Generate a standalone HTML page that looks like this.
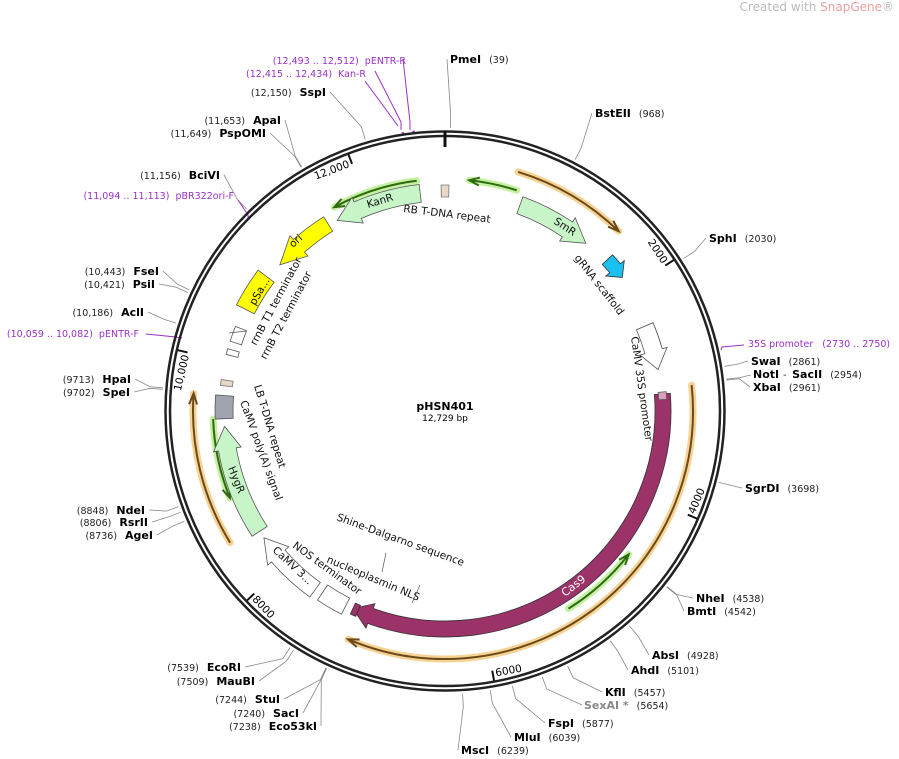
<!DOCTYPE html>
<html><head><meta charset="utf-8"><style>
html,body{margin:0;padding:0;background:#fff;width:899px;height:759px;overflow:hidden}
svg{display:block;font-family:"DejaVu Sans","Liberation Sans",sans-serif}
text{white-space:pre}
.n{font-size:9.5px;fill:#222}.b{font-size:11px;font-weight:bold;fill:#000}
.p{font-size:9.5px;fill:#9b30c8}.f{font-size:10.5px;fill:#111}
</style></head><body>
<svg id="s" width="899" height="759" viewBox="0 0 899 759" xmlns="http://www.w3.org/2000/svg">
<text x="894" y="11" text-anchor="end" style="font-size:12px;fill:#bbb">Created with <tspan fill="#e9a0a0">SnapGene</tspan>®</text>
<text x="445" y="410" text-anchor="middle" style="font-size:11px;font-weight:bold">pHSN401</text>
<text x="445" y="421" text-anchor="middle" style="font-size:9px">12,729 bp</text>
</svg>
<script>
var s=document.getElementById('s'),NS='http://www.w3.org/2000/svg',CX=445,CY=411,DY=3;
function el(t,a,txt){var e=document.createElementNS(NS,t);for(var k in a)e.setAttribute(k,a[k]);if(txt!=null)e.textContent=txt;s.appendChild(e);return e;}
function P(r,d){var a=d*Math.PI/180;return [CX+r*Math.sin(a),CY-r*Math.cos(a)];}
function bp(p){return p/12729*360;}
function arc(r,a1,a2){var p1=P(r,a1),p2=P(r,a2),l=Math.abs(a2-a1)>180?1:0,sw=a2>a1?1:0;return 'M'+p1[0]+' '+p1[1]+' A'+r+' '+r+' 0 '+l+' '+sw+' '+p2[0]+' '+p2[1];}
function cut(pos,x,y,col){var a=P(283,bp(pos)),b=P(296,bp(pos));el('path',{d:'M'+a+' L'+b+' L'+x+' '+y,fill:'none',stroke:col||'#888','stroke-width':0.8});}
var R=[['PmeI','(39)',450,60,39],['BstEII','(968)',595,114,968],['SphI','(2030)',709,239,2030],['SwaI','(2861)',751,362,2861],['XbaI','(2961)',753,388,2961],['SgrDI','(3698)',745,489,3698],['NheI','(4538)',696,599,4538],['BmtI','(4542)',687,612,4542],['AbsI','(4928)',652,656,4928],['AhdI','(5101)',631,671,5101],['KflI','(5457)',605,693,5457],['FspI','(5877)',548,724,5877],['MluI','(6039)',514,738,6039],['MscI','(6239)',461,751,6239]];
R.forEach(function(r){var y=r[3]+DY;cut(r[4],r[2]-3,y-4);var t=el('text',{x:r[2],y:y,class:'b'},r[0]);var w=t.getComputedTextLength();el('text',{x:r[2]+w+8,y:y,class:'n'},r[1]);});
cut(2954,751,375);
var t=el('text',{x:753,y:378,class:'b'},'NotI');var w=t.getComputedTextLength();
el('text',{x:753+w+4,y:378,class:'n'},'-');var t2=el('text',{x:753+w+13,y:378,class:'b'},'SacII');
el('text',{x:753+w+13+t2.getComputedTextLength()+8,y:378,class:'n'},'(2954)');
cut(5654,582,705);var t3=el('text',{x:584,y:709,class:'b',style:'fill:#888'},'SexAI *');
el('text',{x:584+t3.getComputedTextLength()+8,y:709,class:'n'},'(5654)');
var L=[['(11,653)','ApaI',281,121,11653],['(11,649)','PspOMI',266,134,11649],['(12,150)','SspI',326,93,12150],['(11,156)','BciVI',220,176,11156],['(10,443)','FseI',159,272,10443],['(10,421)','PsiI',155,285,10421],['(10,186)','AclI',144,313,10186],['(9713)','HpaI',131,380,9713],['(9702)','SpeI',130,393,9702],['(8848)','NdeI',145,511,8848],['(8806)','RsrII',148,523,8806],['(8736)','AgeI',153,536,8736],['(7539)','EcoRI',241,668,7539],['(7509)','MauBI',255,682,7509],['(7244)','StuI',280,700,7244],['(7240)','SacI',299,714,7240],['(7238)','Eco53kI',317,727,7238]];
L.forEach(function(r){var y=r[3]+DY;cut(r[4],r[2]+4,y-4);var t=el('text',{x:r[2],y:y,class:'b','text-anchor':'end'},r[1]);var w=t.getComputedTextLength();el('text',{x:r[2]-w-8,y:y,class:'n','text-anchor':'end'},r[0]);});
el('path',{d:'M375 71 L401 122 L401 130 M365 81 L398 126',fill:'none',stroke:'#9b30c8','stroke-width':1});
el('path',{d:'M403 59 L410 122 L410 130',fill:'none',stroke:'#9b30c8','stroke-width':1});
el('path',{d:arc(281,bp(12415),bp(12434)),stroke:'#9b30c8','stroke-width':2,fill:'none'});
el('path',{d:arc(281,bp(12493),bp(12512)),stroke:'#9b30c8','stroke-width':2,fill:'none'});
el('text',{x:406,y:64,class:'p','text-anchor':'end'},'(12,493 .. 12,512)  pENTR-R');
el('text',{x:366,y:77,class:'p','text-anchor':'end'},'(12,415 .. 12,434)  Kan-R');
el('path',{d:'M238 200 L248 215 L248 220',fill:'none',stroke:'#9b30c8','stroke-width':1});
el('text',{x:234,y:199,class:'p','text-anchor':'end'},'(11,094 .. 11,113)  pBR322ori-F');
el('path',{d:'M146 334 L176 337 L182 338',fill:'none',stroke:'#9b30c8','stroke-width':1});
el('text',{x:139,y:337,class:'p','text-anchor':'end'},'(10,059 .. 10,082)  pENTR-F');
el('path',{d:'M744 345 L722 347 L721 350',fill:'none',stroke:'#9b30c8','stroke-width':1});
el('text',{x:748,y:347,class:'p'},'35S promoter   (2730 .. 2750)');
el('circle',{cx:CX,cy:CY,r:279.5,fill:'none',stroke:'#222','stroke-width':2.5});
el('circle',{cx:CX,cy:CY,r:275,fill:'none',stroke:'#222','stroke-width':2.5});
el('line',{x1:445,y1:131,x2:445,y2:147,stroke:'#111','stroke-width':3});
[[2000,'2000'],[4000,'4000'],[6000,'6000'],[8000,'8000'],[10000,'10,000'],[12000,'12,000']].forEach(function(k){var a=bp(k[0]),p1=P(274,a),p2=P(264,a);el('line',{x1:p1[0],y1:p1[1],x2:p2[0],y2:p2[1],stroke:'#111','stroke-width':2});
var flip=(a>90&&a<270);var q=flip?P(263,a-0.6):P(262,a-0.6);var rot=flip?a-180:a;
el('text',{x:q[0],y:q[1],style:'font-size:10.5px','text-anchor':flip?'start':'end','dominant-baseline':flip?'hanging':'auto',transform:'rotate('+rot+' '+q[0]+' '+q[1]+')'},k[1]);});
function orf(r,a1,a2,col,glow){el('path',{d:arc(r,a1,a2),stroke:glow,'stroke-width':7,fill:'none','stroke-linecap':'round','opacity':0.8});
el('path',{d:arc(r,a1,a2),stroke:col,'stroke-width':2,fill:'none'});var e=P(r,a2),d=a2>a1?1:-1,b1=P(r+4,a2-d*2.5),b2=P(r-4,a2-d*2.5);
el('path',{d:'M'+b1+' L'+e+' L'+b2,stroke:col,'stroke-width':2,fill:'none'});}
orf(250,17,44,'#6b4a1a','#f5c77a');orf(232,18,6,'#2f6a10','#b5ec8a');orf(232,-7,-28.5,'#2f6a10','#b5ec8a');
orf(248,84,203,'#6b4a1a','#f5c77a');orf(233,148,128,'#2f6a10','#b5ec8a');orf(252,238.5,274,'#6b4a1a','#f5c77a');orf(232,268,248,'#2f6a10','#b5ec8a');
function feat(r1,r2,a1,a2,fill,stroke,head){var d=a2>a1?1:-1,ah=a2-d*head,rm=(r1+r2)/2,t=P(rm,a2);
var p='M'+P(r2,a1)+' '+arc(r2,a1,ah).replace(/^M[^A]*/,'')+' L'+P(r2+5,ah)+' L'+t+' L'+P(r1-5,ah)+' L'+P(r1,ah)+' '+arc(r1,ah,a1).replace(/^M[^A]*/,'')+' Z';
el('path',{d:p,fill:fill,stroke:stroke,'stroke-width':0.8});}
function box(r1,r2,a1,a2,fill,stroke){el('path',{d:'M'+P(r2,a1)+' '+arc(r2,a1,a2).replace(/^M[^A]*/,'')+' L'+P(r1,a2)+' '+arc(r1,a2,a1).replace(/^M[^A]*/,'')+' Z',fill:fill,stroke:stroke,'stroke-width':0.8});}
feat(210,228,20,40,'#c8f5c8','#555',6);
feat(210,228,-6.5,-29.5,'#c8f5c8','#555',6);
feat(212,229,-32,-48.5,'#ffff00','#555',7);
box(214,234,-53,-63,'#ffff00','#555');
box(214,226,-68,-72,'#fff','#555');box(214,226,-74,-75.5,'#fff','#555');
box(214,226,-82,-83.5,'#e8d8c8','#777');box(212,230,-86,-92,'#a0a4ac','#555');
box(214,226,-1,1,'#e8d8c8','#777');
feat(212,230,237,266,'#c8f5c8','#555',6);
feat(212,230,216,235,'#fff','#555',6);
box(210,228,207,214,'#fff','#555');
feat(210,226,85.5,205,'#9b3268','#333',5);
box(214,222,85,87,'#d7a0bc','#555');box(212,224,203.5,205,'#9b3268','#333');
feat(215,229,47,53,'#1ac0f0','#333',3);
feat(208,226,67,79,'#fff','#555',5);
function lab(x,y,r,txt,extra){el('text',{x:x,y:y,class:'f',transform:'rotate('+r+' '+x+' '+y+')',style:extra||''},txt);}
lab(403,212,7,'RB T-DNA repeat');lab(553,223,33,'SmR');lab(368,208,-17,'KanR');lab(293,248,-42,'ori');lab(255,306,-60,'pSa...');
lab(256,346,-62,'rrnB T1 terminator');lab(266,360,-62,'rrnB T2 terminator');lab(574,258,52,'gRNA scaffold');
lab(631,337,82,'CaMV 35S promoter');lab(254,386,73,'LB T-DNA repeat');lab(240,402,70,'CaMV poly(A) signal');
lab(228,468,68,'HygR');lab(336,520,20,'Shine-Dalgarno sequence');lab(326,562,23,'nucleoplasmin NLS');
lab(292,547,36,'NOS terminator');lab(272,551,43,'CaMV 3...');
el('text',{x:565,y:597,transform:'rotate(-38 565 597)',style:'font-size:11px;fill:#fff'},'Cas9');
el('path',{d:'M386 553 L382 572 M412 603 L420 585 M229 333 L246 331',stroke:'#555','stroke-width':0.7,fill:'none'});
</script>
</body></html>
